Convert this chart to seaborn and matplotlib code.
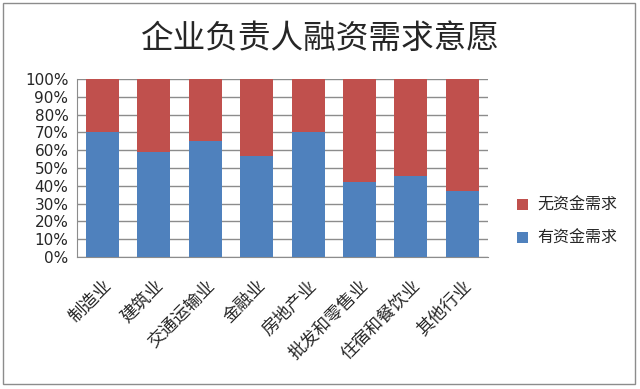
import matplotlib
matplotlib.use('Agg')
import matplotlib.pyplot as plt
import seaborn as sns
import pandas as pd
from matplotlib.patches import Rectangle
from matplotlib.ticker import PercentFormatter

categories = ['制造业', '建筑业', '交通运输业', '金融业', '房地产业', '批发和零售业', '住宿和餐饮业', '其他行业']
has_need = [70.4, 59.2, 65.2, 56.7, 70.4, 42.1, 45.7, 37.1]
no_need = [100 - v for v in has_need]

df = pd.DataFrame({'cat': categories, 'has': has_need, 'none': no_need})
df['total'] = df['has'] + df['none']

sns.set_style('white')
plt.rcParams['font.family'] = ['Noto Sans CJK SC', 'DejaVu Sans']

fig = plt.figure(figsize=(6.4, 3.89), dpi=100)
ax = fig.add_axes([0.120, 0.339, 0.6425, 0.458])

# stacked: draw the full bar in red, then the blue part over it
sns.barplot(data=df, x='cat', y='total', color='#C0504D', width=0.64,
            saturation=1, linewidth=0, label='无资金需求', ax=ax, zorder=2)
sns.barplot(data=df, x='cat', y='has', color='#4F81BD', width=0.64,
            saturation=1, linewidth=0, label='有资金需求', ax=ax, zorder=3)

ax.set_ylim(0, 100)
ax.set_xlim(-0.5, len(categories) - 0.5)
ax.set_yticks(range(0, 101, 10))
ax.yaxis.set_major_formatter(PercentFormatter(decimals=0))
ax.yaxis.grid(True, color='#8c8c8c', linewidth=1)
ax.set_axisbelow(True)
ax.set_xlabel('')
ax.set_ylabel('')
for s in ['top', 'right']:
    ax.spines[s].set_visible(False)
for s in ['left', 'bottom']:
    ax.spines[s].set_color('#8c8c8c')
ax.tick_params(axis='y', length=0, pad=6)
ax.tick_params(axis='x', length=0, pad=14)
plt.setp(ax.get_yticklabels(), family='DejaVu Sans', fontsize=11)
plt.setp(ax.get_xticklabels(), rotation=45, ha='right', rotation_mode='anchor', fontsize=12.5)

handles, labels = ax.get_legend_handles_labels()
if ax.get_legend():
    ax.get_legend().remove()
fig.legend(handles, labels, loc='center left', bbox_to_anchor=(0.785, 0.43),
           frameon=False, fontsize=11.5, handlelength=0.7, handleheight=0.7,
           labelspacing=1.0, handletextpad=0.6)

fig.text(0.5, 0.90, '企业负责人融资需求意愿', ha='center', va='center', fontsize=23.5)

fig.patches.append(Rectangle((0.005, 0.013), 0.987, 0.98, transform=fig.transFigure,
                             fill=False, edgecolor='#8c8c8c', linewidth=1))

fig.savefig('out.png', dpi=100, facecolor='white')
